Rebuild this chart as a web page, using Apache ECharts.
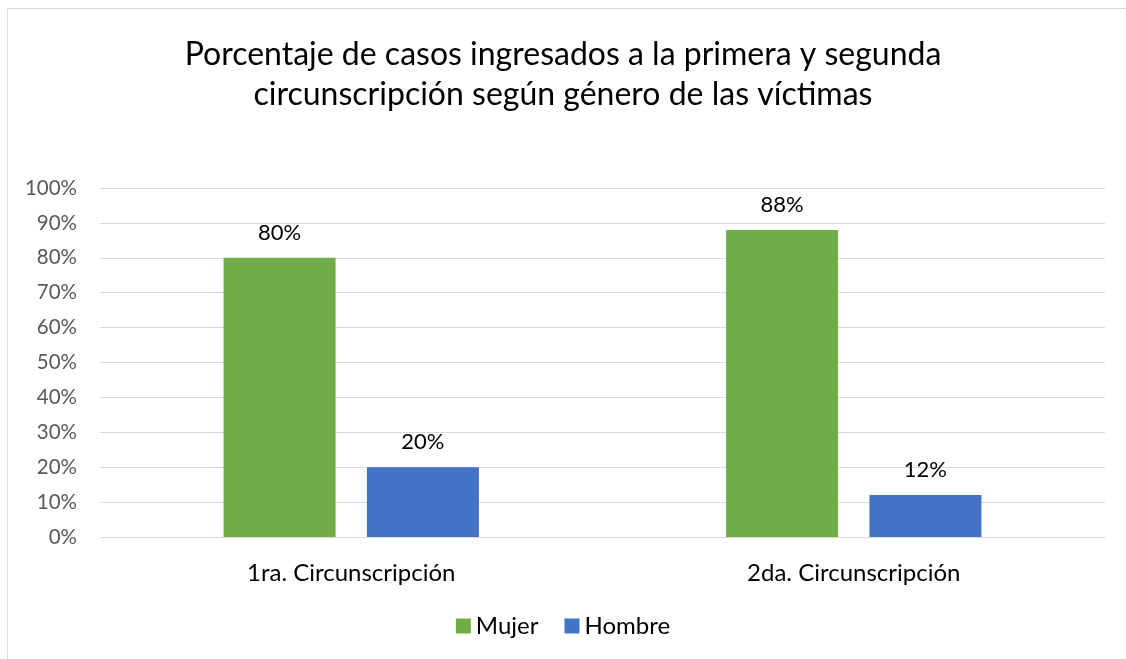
<!DOCTYPE html>
<html>
<head>
<meta charset="utf-8">
<script src="https://cdn.jsdelivr.net/npm/echarts@6/dist/echarts.min.js"></script>
<style>
  html, body { margin: 0; padding: 0; background: #fff; }
  #chart { width: 1126px; height: 659px; }
</style>
</head>
<body>
<div id="chart"></div>
<script>
const categories = ['1ra. Circunscripción', '2da. Circunscripción']
const mujer = [80, 88]
const hombre = [20, 12]
const yTicks = [0, 10, 20, 30, 40, 50, 60, 70, 80, 90, 100]

const FONT = 'Lato, "Open Sans", sans-serif'

const chart = echarts.init(document.getElementById('chart'))

const labelStyle = {
  show: true,
  position: 'top',
  distance: 14,
  formatter: (p) => p.value + '%',
  color: '#000',
  fontSize: 22,
  fontFamily: FONT,
}

chart.setOption({
  animation: false,
  textStyle: { fontFamily: FONT },
  title: {
    text: 'Porcentaje de casos ingresados a la primera y segunda\ncircunscripción según género de las víctimas',
    left: 'center',
    top: 30,
    textStyle: {
      fontSize: 32,
      fontWeight: 'normal',
      color: '#000',
      lineHeight: 40,
      fontFamily: FONT,
    },
  },
  graphic: [
    {
      type: 'rect',
      shape: { x: 7.5, y: 8.5, width: 1130, height: 660 },
      style: { fill: 'none', stroke: '#d9d9d9', lineWidth: 1 },
      silent: true,
    },
  ],
  legend: {
    bottom: 16,
    left: 'center',
    itemWidth: 15,
    itemHeight: 15,
    itemGap: 26,
    icon: 'rect',
    textStyle: { fontSize: 24, color: '#000', fontFamily: FONT },
    data: ['Mujer', 'Hombre'],
  },
  grid: {
    left: 100,
    right: 21,
    top: 188,
    bottom: 122,
  },
  xAxis: {
    type: 'category',
    data: categories,
    axisLine: { lineStyle: { color: '#d9d9d9' } },
    axisTick: { show: false },
    axisLabel: { fontSize: 24, color: '#000', margin: 24, fontFamily: FONT },
  },
  yAxis: {
    type: 'value',
    min: yTicks[0],
    max: yTicks[yTicks.length - 1],
    interval: 10,
    axisLine: { show: false },
    axisTick: { show: false },
    axisLabel: {
      formatter: '{value}%',
      fontSize: 20.5,
      color: '#595959',
      margin: 23,
      fontFamily: FONT,
    },
    splitLine: { lineStyle: { color: '#d9d9d9', width: 1 } },
  },
  series: [
    {
      name: 'Mujer',
      type: 'bar',
      data: mujer,
      barWidth: 112,
      barGap: '28%',
      itemStyle: { color: '#70ad47' },
      label: labelStyle,
    },
    {
      name: 'Hombre',
      type: 'bar',
      data: hombre,
      barWidth: 112,
      itemStyle: { color: '#4472c4' },
      label: labelStyle,
    },
  ],
})
</script>
</body>
</html>
